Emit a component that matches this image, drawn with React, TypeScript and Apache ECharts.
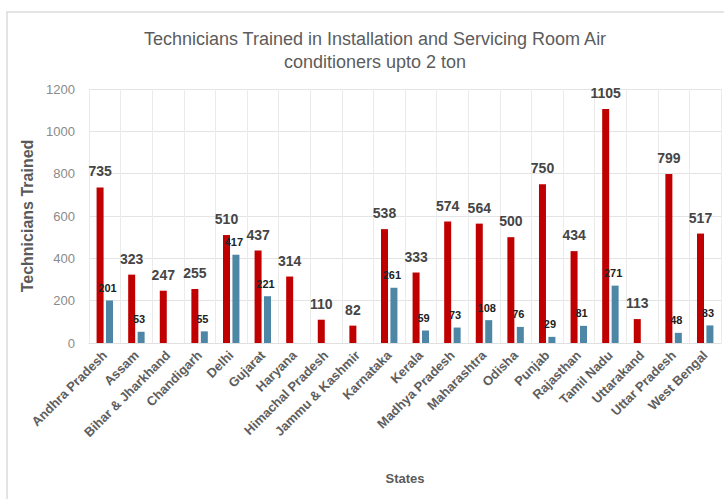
import React, { useEffect, useRef } from "react";
import * as echarts from "echarts";

const states = [
  "Andhra Pradesh", "Assam", "Bihar & Jharkhand", "Chandigarh", "Delhi", "Gujarat",
  "Haryana", "Himachal Pradesh", "Jammu & Kashmir", "Karnataka", "Kerala",
  "Madhya Pradesh", "Maharashtra", "Odisha", "Punjab", "Rajasthan", "Tamil Nadu",
  "Uttarakand", "Uttar Pradesh", "West Bengal",
];
const redValues = [735, 323, 247, 255, 510, 437, 314, 110, 82, 538, 333, 574, 564, 500, 750, 434, 1105, 113, 799, 517];
const blueValues = [201, 53, null, 55, 417, 221, null, null, null, 261, 59, 73, 108, 76, 29, 81, 271, null, 48, 83];
const titleLines = ["Technicians Trained in Installation and Servicing Room Air", "conditioners upto 2 ton"];

export default function App() {
  const ref = useRef<HTMLDivElement>(null);
  useEffect(() => {
    if (!ref.current) return;
    const chart = echarts.init(ref.current, null, { renderer: "svg" });
    chart.setOption({
      animation: false,
      backgroundColor: "#ffffff",
      graphic: [
        {
          type: "rect",
          shape: { x: 7, y: 12, width: 740, height: 520 },
          style: { fill: "none", stroke: "#dcdcdc", lineWidth: 1.5 },
          silent: true,
          z: -10,
        },
      ],
      title: {
        text: titleLines.join("\n"),
        left: 370,
        textAlign: "center",
        top: 22,
        textStyle: {
          fontFamily: "Liberation Sans",
          fontSize: 18,
          fontWeight: "normal",
          color: "#5c5c5c",
          lineHeight: 23,
        },
      },
      grid: { left: 89, right: 3, top: 89, bottom: 156 },
      xAxis: {
        type: "category",
        data: states,
        name: "States",
        nameLocation: "middle",
        nameGap: 129,
        nameTextStyle: { fontFamily: "Liberation Sans", fontSize: 13, fontWeight: "bold", color: "#5a5a5a" },
        axisTick: { show: false },
        axisLine: { lineStyle: { color: "#e0e0e0" } },
        splitLine: { show: true, lineStyle: { color: "#ebebeb" } },
        axisLabel: {
          rotate: 45,
          interval: 0,
          margin: 10,
          fontFamily: "Liberation Sans",
          fontSize: 13,
          fontWeight: "bold",
          color: "#5e5e5e",
        },
      },
      yAxis: {
        type: "value",
        min: 0,
        max: 1200,
        interval: 200,
        name: "Technicians Trained",
        nameLocation: "middle",
        nameGap: 46,
        nameRotate: 90,
        nameTextStyle: { fontFamily: "Liberation Sans", fontSize: 16, fontWeight: "bold", color: "#5a5a5a" },
        axisLine: { show: false },
        axisTick: { show: false },
        splitLine: { lineStyle: { color: "#e4e4e4" } },
        axisLabel: {
          margin: 14,
          fontFamily: "Liberation Sans",
          fontSize: 13,
          color: "#8a8a8a",
          formatter: (v: number) => String(v),
        },
      },
      series: [
        {
          type: "bar",
          data: redValues,
          barWidth: 7,
          barGap: "35%",
          itemStyle: { color: "#C00000" },
          label: {
            show: true,
            position: "top",
            distance: 9,
            fontFamily: "Liberation Sans",
            fontSize: 14,
            fontWeight: "bold",
            color: "#454545",
          },
        },
        {
          type: "bar",
          data: blueValues,
          barWidth: 7,
          itemStyle: { color: "#4E86A5" },
          label: {
            show: true,
            position: "top",
            distance: 7,
            offset: [-2, 0],
            fontFamily: "Liberation Sans",
            fontSize: 11,
            fontWeight: "bold",
            color: "#222222",
          },
        },
      ],
    });
    return () => chart.dispose();
  }, []);
  return <div ref={ref} style={{ width: 724, height: 499, position: "absolute", left: 0, top: 0 }} />;
}
